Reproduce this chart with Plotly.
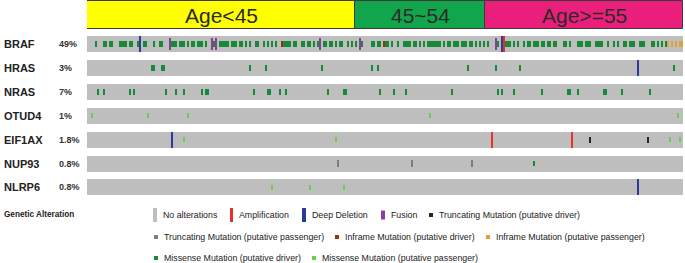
import plotly.graph_objects as go

# ---------------- data ----------------
N_SAMPLES = 298
genes = ["BRAF", "HRAS", "NRAS", "OTUD4", "EIF1AX", "NUP93", "NLRP6"]
percents = ["49%", "3%", "7%", "1%", "1.8%", "0.8%", "0.8%"]

group_labels = ["Age<45", "45~54", "Age>=55"]
group_sizes = [134, 65, 99]
group_colors = ["#ffff00", "#12a64c", "#ea1f7c"]

BRAF_MISSENSE_DRIVER = [4, 8, 9, 11, 12, 16, 17, 18, 19, 21, 22, 25, 28, 29, 33, 36, 37, 42, 43, 44, 46, 47, 48,
                        50, 52, 53, 55, 56, 57, 59, 63, 66, 67, 68, 69, 70, 72, 73, 74, 76, 77, 79, 81, 84, 85, 88,
                        90, 92, 94, 98, 99, 100, 101, 103, 104, 107, 108, 110, 111, 113, 115, 118, 119, 121, 122,
                        124, 126, 127, 130, 132, 134, 137, 142, 143, 145, 146, 149, 150, 152, 155, 158, 159, 160,
                        161, 163, 164, 166, 168, 170, 171, 172, 173, 174, 175, 176, 178, 180, 181, 183, 184, 185,
                        187, 188, 189, 191, 192, 194, 196, 198, 200, 205, 209, 210, 211, 213, 215, 218, 220, 221,
                        223, 224, 225, 227, 228, 230, 231, 233, 234, 238, 239, 241, 245, 246, 247, 249, 250, 251,
                        254, 255, 256, 257, 260, 263, 265, 268, 269, 271, 272, 273, 276, 277, 278, 282, 283, 285,
                        287, 289]
BRAF_FUSION = [41, 62, 64, 116, 136, 204]
BRAF_HOMDEL = [26, 207]
BRAF_AMP = [208]
BRAF_INFRAME_DRIVER = [97, 148]
BRAF_INFRAME_PASSENGER = [290, 292, 294, 296, 297]

HRAS_MISSENSE_DRIVER = [32, 33, 37, 38, 81, 89, 117, 142, 145, 190, 204, 216, 293]
HRAS_HOMDEL = [275]

NRAS_MISSENSE_DRIVER = [5, 8, 21, 23, 39, 44, 48, 57, 59, 60, 83, 90, 91, 96, 99, 120, 128, 129, 146, 153, 159,
                        182, 205, 207, 213, 227, 240, 241, 245, 258, 259, 267, 281]

OTUD4_MISSENSE_PASSENGER = [2, 30, 50, 171, 295]

EIF1AX_HOMDEL = [42]
EIF1AX_MISSENSE_PASSENGER = [48, 124, 291, 296]
EIF1AX_AMP = [202, 242]
EIF1AX_TRUNC_DRIVER = [251, 280]

NUP93_TRUNC_PASSENGER = [125, 162, 192]
NUP93_MISSENSE_DRIVER = [223]

NLRP6_MISSENSE_PASSENGER = [92, 111, 128]
NLRP6_HOMDEL = [275]

alterations = [
    ("BRAF", "missense_driver", BRAF_MISSENSE_DRIVER),
    ("BRAF", "fusion", BRAF_FUSION),
    ("BRAF", "homdel", BRAF_HOMDEL),
    ("BRAF", "amp", BRAF_AMP),
    ("BRAF", "inframe_driver", BRAF_INFRAME_DRIVER),
    ("BRAF", "inframe_passenger", BRAF_INFRAME_PASSENGER),
    ("HRAS", "missense_driver", HRAS_MISSENSE_DRIVER),
    ("HRAS", "homdel", HRAS_HOMDEL),
    ("NRAS", "missense_driver", NRAS_MISSENSE_DRIVER),
    ("OTUD4", "missense_passenger", OTUD4_MISSENSE_PASSENGER),
    ("EIF1AX", "homdel", EIF1AX_HOMDEL),
    ("EIF1AX", "missense_passenger", EIF1AX_MISSENSE_PASSENGER),
    ("EIF1AX", "amp", EIF1AX_AMP),
    ("EIF1AX", "trunc_driver", EIF1AX_TRUNC_DRIVER),
    ("NUP93", "trunc_passenger", NUP93_TRUNC_PASSENGER),
    ("NUP93", "missense_driver", NUP93_MISSENSE_DRIVER),
    ("NLRP6", "missense_passenger", NLRP6_MISSENSE_PASSENGER),
    ("NLRP6", "homdel", NLRP6_HOMDEL),
]

legend_rows = [
    [("No alterations", "none"), ("Amplification", "amp"), ("Deep Deletion", "homdel"),
     ("Fusion", "fusion"), ("Truncating Mutation (putative driver)", "trunc_driver")],
    [("Truncating Mutation (putative passenger)", "trunc_passenger"),
     ("Inframe Mutation (putative driver)", "inframe_driver"),
     ("Inframe Mutation (putative passenger)", "inframe_passenger")],
    [("Missense Mutation (putative driver)", "missense_driver"),
     ("Missense Mutation (putative passenger)", "missense_passenger")],
]

# ---------------- styling / layout ----------------
W, H = 685, 263
FONT = "Liberation Sans, Arial, sans-serif"
X0_PX, X1_PX = 87, 683
ROW0, PITCH, ROWH = 36.0, 23.9, 16.0
HEAD_TOP, HEAD_BOT = 0.5, 28.5

styles = {  # color, rel base, rel height, width (in cells)
    "none": ("#bebebe", 0.0, 1.0, 0.88),
    "amp": ("#e8302a", 0.0, 1.0, 0.65),
    "homdel": ("#2b3c96", 0.0, 1.0, 0.65),
    "fusion": ("#8a3f9c", 0.14, 0.72, 0.65),
    "trunc_driver": ("#262626", 0.31, 0.38, 0.8),
    "trunc_passenger": ("#708090", 0.31, 0.38, 0.8),
    "inframe_driver": ("#993404", 0.33, 0.34, 0.8),
    "inframe_passenger": ("#e0a23a", 0.33, 0.34, 0.8),
    "missense_driver": ("#168a36", 0.33, 0.34, 0.8),
    "missense_passenger": ("#6ccc4c", 0.33, 0.34, 0.8),
}


def row_top(g):
    return ROW0 + genes.index(g) * PITCH


fig = go.Figure()

# header (clinical groups)
starts = []
s = 0
for n in group_sizes:
    starts.append(s)
    s += n
fig.add_trace(go.Bar(
    x=[st - 0.5 + n / 2 for st, n in zip(starts, group_sizes)],
    y=[HEAD_BOT - HEAD_TOP] * len(group_sizes),
    base=[HEAD_TOP] * len(group_sizes),
    width=group_sizes,
    marker=dict(color=group_colors, line=dict(color="#3a3a3a", width=1)),
    hoverinfo="skip", showlegend=False,
))

# gray background cells
bx, bb = [], []
for g in genes:
    for i in range(N_SAMPLES):
        bx.append(i)
        bb.append(row_top(g))
c, rb, rh, w = styles["none"]
fig.add_trace(go.Bar(x=bx, y=[ROWH * rh] * len(bx), base=bb, width=w,
                     marker=dict(color=c, line=dict(width=0)), hoverinfo="skip", showlegend=False))

# alterations, drawn in a fixed order so full-height events sit on top
order = ["missense_driver", "missense_passenger", "inframe_driver", "inframe_passenger",
         "trunc_passenger", "trunc_driver", "fusion", "homdel", "amp"]
for t in order:
    xs, bs = [], []
    for g, typ, idx in alterations:
        if typ != t:
            continue
        for i in idx:
            xs.append(i)
            bs.append(row_top(g) + ROWH * styles[t][1])
    if not xs:
        continue
    c, rb, rh, w = styles[t]
    fig.add_trace(go.Bar(x=xs, y=[ROWH * rh] * len(xs), base=bs, width=w,
                         marker=dict(color=c, line=dict(width=0)), hoverinfo="skip", showlegend=False))

annotations = []
for st, n, lab in zip(starts, group_sizes, group_labels):
    annotations.append(dict(x=st - 0.5 + n / 2, y=(HEAD_TOP + HEAD_BOT) / 2 + 1, xref="x", yref="y",
                            text=lab, showarrow=False, xanchor="center", yanchor="middle",
                            font=dict(family=FONT, size=21, color="#2a2a2a")))

for g, p in zip(genes, percents):
    yc = row_top(g) + ROWH / 2
    annotations.append(dict(x=2 / W, y=yc, xref="paper", yref="y", text="<b>%s</b>" % g,
                            showarrow=False, xanchor="left", yanchor="middle",
                            font=dict(family=FONT, size=11, color="#222")))
    annotations.append(dict(x=57 / W, y=yc, xref="paper", yref="y", text="<b>%s</b>" % p,
                            showarrow=False, xanchor="left", yanchor="middle",
                            font=dict(family=FONT, size=9, color="#333")))

annotations.append(dict(x=2 / W, y=214, xref="paper", yref="y", text="<b>Genetic Alteration</b>",
                        showarrow=False, xanchor="left", yanchor="middle",
                        font=dict(family=FONT, size=8.2, color="#222")))

# legend (drawn manually)
legend_y = [215, 237, 258]
legend_icon_x = [[153, 230, 302, 381, 429], [154, 335, 486], [154, 312]]
shapes = []
for r, items in enumerate(legend_rows):
    yc = legend_y[r]
    for (lab, t), ix in zip(items, legend_icon_x[r]):
        c = styles[t][0]
        if t in ("none", "amp", "homdel"):
            iw, ih = (4 if t != "amp" else 3), 14
        elif t == "fusion":
            iw, ih = 4, 9
        else:
            iw, ih = 4, 4
        shapes.append(dict(type="rect", xref="paper", yref="y",
                           x0=ix / W, x1=(ix + iw) / W, y0=yc - ih / 2, y1=yc + ih / 2,
                           fillcolor=c, line=dict(width=0), layer="above"))
        annotations.append(dict(x=(ix + iw + 4) / W, y=yc, xref="paper", yref="y", text=lab,
                                showarrow=False, xanchor="left", yanchor="middle",
                                font=dict(family=FONT, size=8.8, color="#222")))

fig.update_layout(
    width=W, height=H,
    margin=dict(l=0, r=0, t=0, b=0),
    paper_bgcolor="white", plot_bgcolor="white",
    barmode="overlay", bargap=0,
    xaxis=dict(domain=[X0_PX / W, X1_PX / W], range=[-0.5, N_SAMPLES - 0.5], visible=False, fixedrange=True),
    yaxis=dict(domain=[0, 1], range=[H, 0], visible=False, fixedrange=True),
    annotations=annotations, shapes=shapes,
    showlegend=False,
)

fig.write_html("out.html", config={"displayModeBar": False},
               post_script="document.body.style.margin='0';document.body.style.overflow='hidden';")
